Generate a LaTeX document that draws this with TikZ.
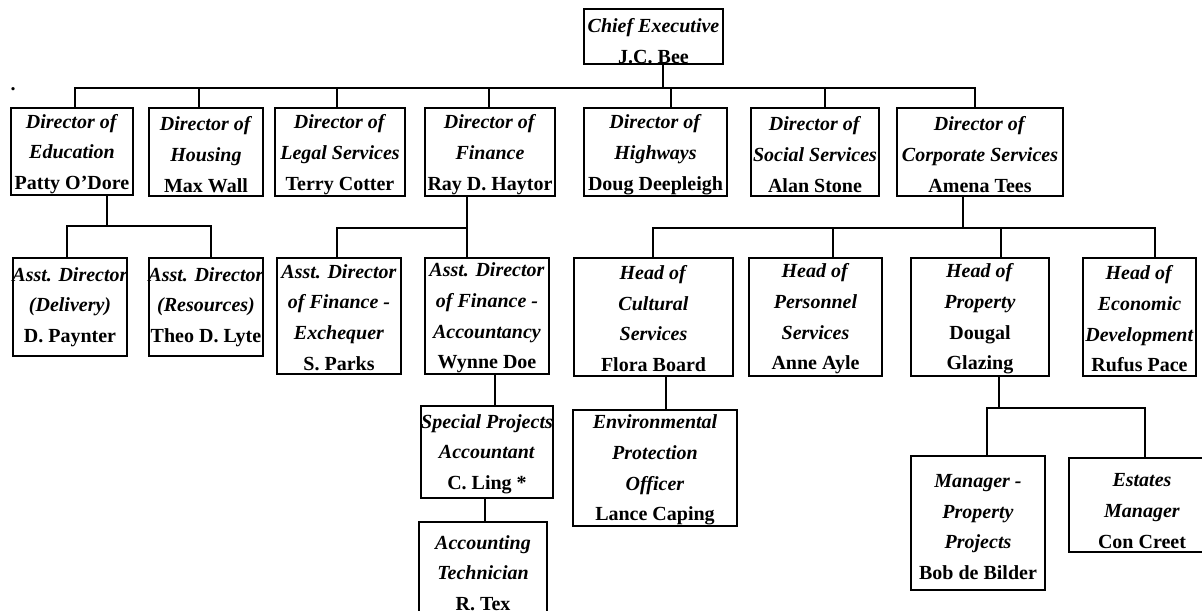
\documentclass[tikz,border=0pt]{standalone}
\usepackage{fontspec}
\setmainfont{Liberation Serif}
\usetikzlibrary{calc}

\begin{document}
\begin{tikzpicture}[x=0.75pt, y=-0.75pt,
                    post/.style={draw, rectangle, line width=1.1pt, inner sep=0pt},
                    wh/.style 2 args={minimum width=#1*0.75pt, minimum height=#2*0.75pt},
                    txt/.style={align=center, inner sep=0pt, yshift=-#1*0.75pt,
                                font=\bfseries\fontsize{15}{23}\selectfont},
                    link/.style={draw, line width=1.1pt}]
    \useasboundingbox (0,0) rectangle (1202,610);
    \clip (0,0) rectangle (1202,610);
    \fill[white] (0,0) rectangle (1202,610);

    % top
    \node[post, wh={139}{55}, label={[txt=4.5]center:{\textit{Chief Executive}\\J.C. Bee}}] (ceo) at (653.5,36.5) {};
    \node[font=\bfseries\fontsize{15}{23}\selectfont, anchor=base, inner sep=0pt] (dot) at (13,90) {.};

    % directors
    \node[post, wh={122}{87}, label={[txt=2.5]center:{\textit{Director of}\\\textit{Education}\\Patty O'Dore}}] (edu) at (72,151.5) {};
    \node[post, wh={114}{88}, label={[txt=2.5]center:{\textit{Director of}\\\textit{Housing}\\Max Wall}}] (hsg) at (206,152) {};
    \node[post, wh={130}{88}, label={[txt=2.5]center:{\textit{Director of}\\\textit{Legal Services}\\Terry Cotter}}] (lgl) at (340,152) {};
    \node[post, wh={130}{88}, label={[txt=2.5]center:{\textit{Director of}\\\textit{Finance}\\Ray D. Haytor}}] (fin) at (490,152) {};
    \node[post, wh={143}{88}, label={[txt=2.5]center:{\textit{Director of}\\\textit{Highways}\\Doug Deepleigh}}] (hwy) at (655.5,152) {};
    \node[post, wh={128}{88}, label={[txt=2.5]center:{\textit{Director of}\\\textit{Social Services}\\Alan Stone}}] (soc) at (815,152) {};
    \node[post, wh={166}{88}, label={[txt=2.5]center:{\textit{Director of}\\\textit{Corporate Services}\\Amena Tees}}] (crp) at (980,152) {};

    % second level
    \node[post, wh={114}{98}, label={[txt=0]center:{\textit{Asst. Director}\\\textit{(Delivery)}\\D. Paynter}}] (dlv) at (70,307) {};
    \node[post, wh={114}{98}, label={[txt=0]center:{\textit{Asst. Director}\\\textit{(Resources)}\\Theo D. Lyte}}] (res) at (206,307) {};
    \node[post, wh={124}{116}, label={[txt=1.5]center:{\textit{Asst. Director}\\\textit{of Finance -}\\\textit{Exchequer}\\S. Parks}}] (exq) at (339,316) {};
    \node[post, wh={124}{116}, label={[txt=2]center:{\textit{Asst. Director}\\\textit{of Finance -}\\\textit{Accountancy}\\Wynne Doe}}] (acc) at (487,316) {};
    \node[post, wh={159}{118}, label={[txt=1.5]center:{\textit{Head of}\\\textit{Cultural}\\\textit{Services}\\Flora Board}}] (cul) at (653.5,317) {};
    \node[post, wh={133}{118}, label={[txt=2]center:{\textit{Head of}\\\textit{Personnel}\\\textit{Services}\\Anne Ayle}}] (per) at (815.5,317) {};
    \node[post, wh={138}{118}, label={[txt=2]center:{\textit{Head of}\\\textit{Property}\\Dougal\\Glazing}}] (prp) at (980,317) {};
    \node[post, wh={113}{118}, label={[txt=2]center:{\textit{Head of}\\\textit{Economic}\\\textit{Development}\\Rufus Pace}}] (eco) at (1139.5,317) {};

    % third level
    \node[post, wh={132}{92}, label={[txt=2]center:{\textit{Special Projects}\\\textit{Accountant}\\C. Ling *}}] (spa) at (487,452) {};
    \node[post, wh={128}{98}, label={[txt=2]center:{\textit{Accounting}\\\textit{Technician}\\R. Tex}}] (tec) at (483,571) {};
    \node[post, wh={164}{116}, label={[txt=2]center:{\textit{Environmental}\\\textit{Protection}\\\textit{Officer}\\Lance Caping}}] (env) at (655,468) {};
    \node[post, wh={134}{134}, label={[txt=4]center:{\textit{Manager -}\\\textit{Property}\\\textit{Projects}\\Bob de Bilder}}] (mgr) at (978,523) {};
    \node[post, wh={146}{94}, label={[txt=6]center:{\textit{Estates}\\\textit{Manager}\\Con Creet}}] (est) at (1142,505) {};

    % connectors
    \coordinate (ceo-bus) at (663,88);
    \draw[link] (ceo.south -| ceo-bus) -- (ceo-bus);
    \foreach \n/\dx in {edu/3, hsg/-7, lgl/-3, fin/-1, hwy/15.5, soc/10, crp/-5}
        \draw[link] (ceo-bus) -| ($(\n.north)+(\dx,0)$);

    \coordinate (edu-bus) at (107,226);
    \draw[link] (edu.south -| edu-bus) -- (edu-bus);
    \foreach \n/\dx in {dlv/-3, res/5}
        \draw[link] (edu-bus) -| ($(\n.north)+(\dx,0)$);

    \coordinate (fin-bus) at (467,228);
    \draw[link] (fin.south -| fin-bus) -- (fin-bus);
    \foreach \n/\dx in {exq/-2, acc/-20}
        \draw[link] (fin-bus) -| ($(\n.north)+(\dx,0)$);

    \coordinate (crp-bus) at (963,228);
    \draw[link] (crp.south -| crp-bus) -- (crp-bus);
    \foreach \n/\dx in {cul/-0.5, per/17.5, prp/21, eco/15.5}
        \draw[link] (crp-bus) -| ($(\n.north)+(\dx,0)$);

    \draw[link] ($(acc.south)+(8,0)$) -- ($(spa.north)+(8,0)$);
    \draw[link] ($(spa.south)+(-2,0)$) -- ($(tec.north)+(2,0)$);
    \draw[link] ($(cul.south)+(12.5,0)$) -- ($(env.north)+(11,0)$);

    \coordinate (prp-bus) at (999,408);
    \draw[link] (prp.south -| prp-bus) -- (prp-bus);
    \foreach \n/\dx in {mgr/9, est/3}
        \draw[link] (prp-bus) -| ($(\n.north)+(\dx,0)$);
\end{tikzpicture}
\end{document}
